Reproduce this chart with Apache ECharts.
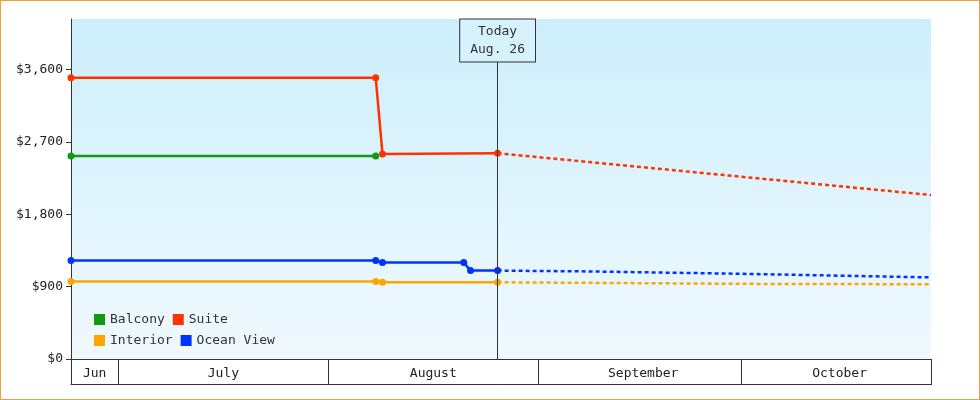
<!DOCTYPE html>
<html><head><meta charset="utf-8">
<script src="https://cdn.jsdelivr.net/npm/echarts@6/dist/echarts.min.js"></script>
<style>html,body{margin:0;padding:0;background:#fff}#c{width:978px;height:398px;border:1px solid #f0a040}</style>
</head><body><div id="c"></div>
<script>
const suite = [["2025-06-24",3500],["2025-08-08",3500],["2025-08-09",2550],["2025-08-26",2560]];
const suiteF = [["2025-08-26",2560],["2025-10-29",2040]];
const balcony = [["2025-06-24",2525],["2025-08-08",2525]];
const ocean = [["2025-06-24",1225],["2025-08-08",1225],["2025-08-09",1200],["2025-08-21",1200],["2025-08-22",1100],["2025-08-26",1100]];
const oceanF = [["2025-08-26",1100],["2025-09-08",1090],["2025-10-01",1060],["2025-10-29",1015]];
const interior = [["2025-06-24",965],["2025-08-08",965],["2025-08-09",955],["2025-08-26",955]];
const interiorF = [["2025-08-26",955],["2025-10-01",935],["2025-10-29",930]];
const yTicks = [0,900,1800,2700,3600];
const monthNames = {6:"Jun",7:"July",8:"August",9:"September",10:"October"};
const todayDate = "2025-08-26";
const font = "DejaVu Sans Mono";

const days = [];
for (let t = Date.UTC(2025,5,24); t < Date.UTC(2025,9,29); t += 86400000) days.push(new Date(t));
const labelDays = {"6-27":1,"7-16":1,"8-16":1,"9-16":1,"10-15":1};
const dayKeys = days.map(d=>(d.getUTCMonth()+1)+"-"+d.getUTCDate());

const chart = echarts.init(document.getElementById('c'));
const C = {Balcony:"#119911",Suite:"#ff3300",Interior:"#ffa500","Ocean View":"#0033ff"};
function solid(name,data){return {name,type:'line',data,color:C[name],lineStyle:{width:2.5},symbol:'circle',symbolSize:7,z:3};}
function dash(name,data){return {name,type:'line',data,color:C[name],lineStyle:{width:2.5,type:[4,3]},symbol:'none',z:3};}
chart.setOption({
  animation:false,
  textStyle:{fontFamily:font},
  grid:{left:70,right:48,top:18,bottom:40,show:true,borderWidth:0,
    backgroundColor:{type:'linear',x:0,y:0,x2:0,y2:1,colorStops:[{offset:0,color:'#cdeffc'},{offset:1,color:'#f0f9fe'}]}},
  legend:{left:88,top:312,width:200,itemWidth:11,itemHeight:11,icon:'rect',itemGap:8,padding:[0,5],
    data:["Balcony","Suite","Interior","Ocean View"],textStyle:{fontFamily:font,fontSize:13,color:'#333'}},
  xAxis:[
    {type:'time',min:Date.UTC(2025,5,24),max:Date.UTC(2025,9,29),axisLine:{lineStyle:{color:'#333'}},
     axisLabel:{show:false},axisTick:{show:false},splitLine:{show:false}},
    {type:'category',position:'bottom',offset:0,data:dayKeys,
     boundaryGap:true,axisLine:{show:true,onZero:false,lineStyle:{color:'#333'}},
     axisTick:{show:true,length:26,lineStyle:{color:'#333'},interval:(i,v)=>v.endsWith("-1")||i===0},
     axisLabel:{fontFamily:font,fontSize:13,color:'#222',margin:8,interval:(i,v)=>!!labelDays[v],
       formatter:v=>monthNames[+v.split("-")[0]]},
     splitLine:{show:false}},
    {type:'category',position:'bottom',offset:25,data:dayKeys,
     axisLine:{show:true,onZero:false,lineStyle:{color:'#333'}},axisTick:{show:false},axisLabel:{show:false},splitLine:{show:false}}
  ],
  yAxis:{type:'value',min:0,max:4230,interval:900,axisLine:{show:true,lineStyle:{color:'#333'}},
    axisTick:{show:true,length:5,lineStyle:{color:'#333'}},splitLine:{show:false},
    axisLabel:{fontFamily:font,fontSize:13,color:'#222',margin:8,showMaxLabel:false,
      formatter:v=>yTicks.includes(v)?'$'+v.toLocaleString('en-US'):''}},
  series:[
    solid("Balcony",balcony),
    solid("Suite",suite),dash("Suite",suiteF),
    solid("Ocean View",ocean),dash("Ocean View",oceanF),
    solid("Interior",interior),dash("Interior",interiorF),
    {type:'line',data:[],markLine:{symbol:'none',silent:true,animation:false,
      lineStyle:{color:'#333',width:1,type:'solid'},
      label:{show:true,position:'start',distance:0,formatter:'Today\nAug. 26',fontFamily:font,fontSize:13,color:'#333',
        backgroundColor:'#d6f2fc',borderColor:'#333',borderWidth:1,padding:[3,10],lineHeight:18},
      data:[[{coord:[todayDate,3700]},{coord:[todayDate,0]}]]}}
  ]
});
</script></body></html>
